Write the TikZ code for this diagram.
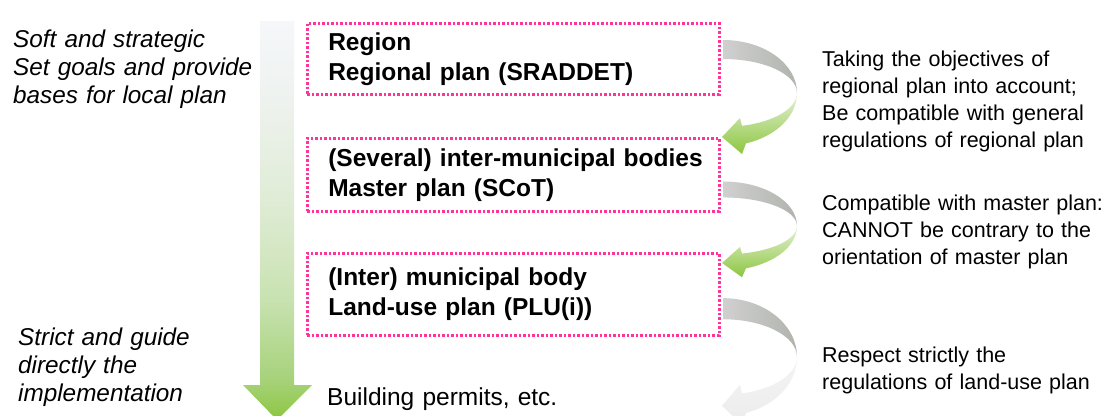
\documentclass[tikz,border=0pt]{standalone}
\usepackage{fontspec}
\setmainfont{Liberation Sans}
\definecolor{pinkdot}{HTML}{FF3399}
\definecolor{ga}{HTML}{8CC63F}
\definecolor{gb}{HTML}{A6D27A}
\definecolor{gc}{HTML}{C8E2B0}
\definecolor{gd}{HTML}{E0ECD6}
\definecolor{ge}{HTML}{EEF2EE}
\definecolor{gf}{HTML}{F5F7FA}
\definecolor{grayL}{HTML}{D0D0D0}
\definecolor{grayR}{HTML}{B0B4AD}
\definecolor{grnT}{HTML}{E6F1D8}
\definecolor{grnB}{HTML}{8CC63F}
\definecolor{paleT}{HTML}{F4F4F4}
\definecolor{paleB}{HTML}{ECECEC}
\pgfdeclareverticalshading{bigarrow}{100bp}{color(0bp)=(ga); color(25bp)=(ga); color(30bp)=(gb); color(40bp)=(gc); color(52.6bp)=(gd); color(65bp)=(ge); color(75bp)=(gf); color(100bp)=(gf)}
\tikzset{
  levelbox/.style={draw=pinkdot, line width=2.6pt, dash pattern=on 2.6pt off 1.9pt,
    text width=370pt, align=left, inner xsep=21pt, inner ysep=0pt,
    font=\fontsize{24.5}{30}\selectfont\bfseries, anchor=north west},
  sidetext/.style={inner sep=0pt, align=left, anchor=base west,
    font=\fontsize{24.3}{28}\selectfont\itshape, text width=280pt},
  righttext/.style={inner sep=0pt, align=left, anchor=base west,
    font=\fontsize{21.5}{27.3}\selectfont, text width=284pt},
  backpart/.style={left color=grayL, right color=grayR},
  frontpart/.style={top color=grnT, bottom color=grnB},
  palepart/.style={top color=paleT, bottom color=paleB},
}
\newcommand{\backribbon}{(0,53) arc[start angle=90,end angle=0,x radius=74pt,y radius=53pt]
    arc[start angle=0,end angle=90,x radius=74pt,y radius=34pt] -- cycle}
\newcommand{\frontribbon}{(74,0) arc[start angle=0,end angle=-71.9,x radius=74pt,y radius=53pt]
    -- (19,-61) -- (-1,-44) -- (17,-25) -- (19,-32.8)
    arc[start angle=-75.1,end angle=0,x radius=74pt,y radius=34pt] -- cycle}
\begin{document}
\begin{tikzpicture}[x=1pt,y=1pt]
\useasboundingbox (0,0) rectangle (1108,-415);
\fill[white] (0,0) rectangle (1108,-415);

% big vertical arrow
\path[shading=bigarrow] (260,-21) -- (294,-21) -- (294,-385) -- (312,-385)
  -- (277,-420) -- (243,-385) -- (260,-385) -- cycle;

% boxes
\node[levelbox, minimum width=412pt, minimum height=71pt] (b1) at (306,-22)
  {\mbox{Region}\\\mbox{Regional plan (SRADDET)}};
\node[levelbox, minimum width=411pt, minimum height=73pt] (b2) at (306,-137)
  {\mbox{(Several) inter-municipal bodies}\\\mbox{Master plan (SCoT)}};
\node[levelbox, minimum width=411pt, minimum height=82pt] (b3) at (306,-252)
  {\mbox{(Inter) municipal body}\\\mbox{Land-use plan (PLU(i))}};
\node[sidetext, font=\fontsize{24.5}{30}\selectfont] (bp) at (327,-405) {Building permits, etc.};

% left texts
\node[sidetext] (lt1) at (13,-47) {Soft and strategic\\Set goals and provide\\bases for local plan};
\node[sidetext] (lt2) at (18,-345) {Strict and guide\\directly the\\implementation};

% curved arrows
\begin{scope}[shift={(723,-93)}]
  \path[backpart] \backribbon;
  \path[frontpart] \frontribbon;
\end{scope}
\begin{scope}[shift={(723,-226)}, yscale=0.84]
  \path[backpart] \backribbon;
  \path[frontpart] \frontribbon;
\end{scope}
\begin{scope}[shift={(723,-357)}, yscale=1.11]
  \path[backpart] \backribbon;
  \path[palepart] \frontribbon;
\end{scope}

% right texts
\node[righttext] (rt1) at (822,-66) {Taking the objectives of\\regional plan into account;\\Be compatible with general\\regulations of regional plan};
\node[righttext] (rt2) at (822,-210) {Compatible with master plan:\\CANNOT be contrary to the\\orientation of master plan};
\node[righttext] (rt3) at (822,-362) {Respect strictly the\\regulations of land-use plan};
\end{tikzpicture}
\end{document}
